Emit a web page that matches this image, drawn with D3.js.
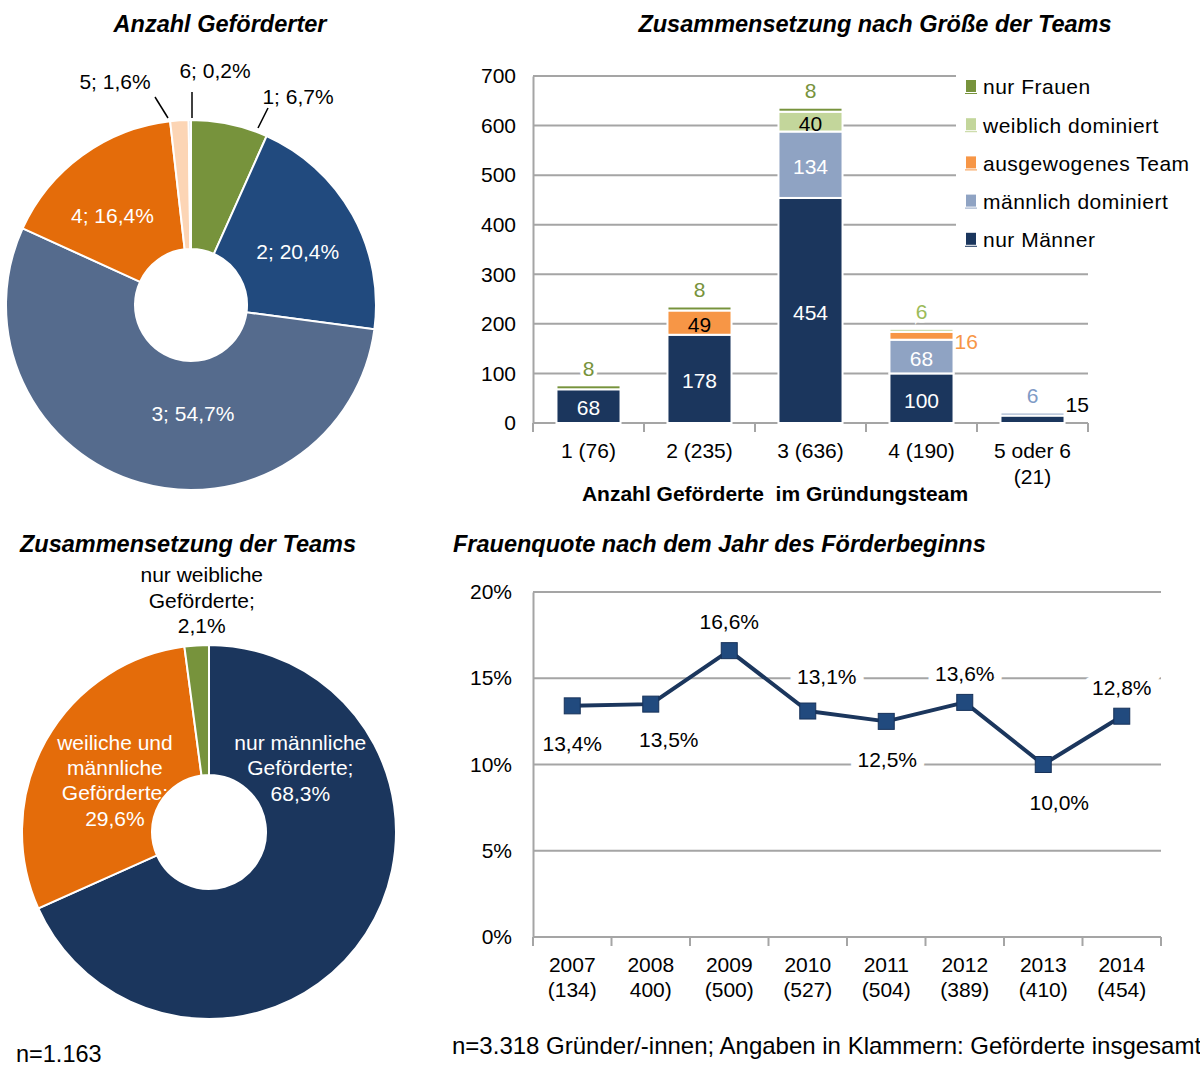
<!DOCTYPE html>
<html>
<head>
<meta charset="utf-8">
<script src="https://cdn.jsdelivr.net/npm/d3@7"></script>
<style>
  body { margin: 0; background: #fff; }
  svg text { font-family: "Liberation Sans", Arial, sans-serif; }
  .title { font-size: 23.5px; font-weight: bold; font-style: italic; }
  .lbl { font-size: 21px; }
  .grid { stroke: #a5a5a5; stroke-width: 2; }
</style>
</head>
<body>
<div id="chart"></div>
<script>
// ---- data ----
// top-left doughnut: number of funded people per team
const teamSizeLabels = ["1", "2", "3", "4", "5", "6"];
const teamSizeShares = [6.7, 20.4, 54.7, 16.4, 1.6, 0.2];

// stacked bars: composition by team size
const barCategories = ["1 (76)", "2 (235)", "3 (636)", "4 (190)", "5 oder 6\n(21)"];
const seriesNames = ["nur Männer", "männlich dominiert", "ausgewogenes Team", "weiblich dominiert", "nur Frauen"];
const nurMaenner = [68, 178, 454, 100, 15];
const maennlichDom = [0, 0, 134, 68, 6];
const ausgewogen = [0, 49, 0, 16, 0];
const weiblichDom = [0, 0, 40, 6, 0];
const nurFrauen = [8, 8, 8, 0, 0];
const barTicks = [0, 100, 200, 300, 400, 500, 600, 700];

// bottom-left doughnut: team composition
const compLabels = ["nur männliche\nGeförderte;\n68,3%", "weiliche und\nmännliche\nGeförderte;\n29,6%", "nur weibliche\nGeförderte;\n2,1%"];
const compShares = [68.3, 29.6, 2.1];

// line chart: share of women by start year
const years = ["2007", "2008", "2009", "2010", "2011", "2012", "2013", "2014"];
const yearCounts = ["(134)", "400)", "(500)", "(527)", "(504)", "(389)", "(410)", "(454)"];
const womenShare = [13.4, 13.5, 16.6, 13.1, 12.5, 13.6, 10.0, 12.8];
const lineTicks = [0, 5, 10, 15, 20];

// ---- styles ----
const pieColors = ["#77933c", "#214a7e", "#556b8d", "#e46c0a", "#fcd5b5", "#b7c9e2"];
const seriesColors = ["#1b365d", "#8fa3c3", "#f79646", "#c3d69b", "#77933c"];
const outLabelColors = ["#000", "#7f9bc6", "#f79646", "#9bbb59", "#77933c"];
const compColors = ["#1b365d", "#e46c0a", "#77933c"];

const fmt = v => d3.format(".1f")(v).replace(".", ",");

const svg = d3.select("#chart").append("svg")
  .attr("width", 1200).attr("height", 1073);

// ================= top-left doughnut =================
let pie = d3.pie().sort(null).value(d => d);

let p1 = svg.append("g").attr("transform", "translate(191,305)");
let arc1 = d3.arc().innerRadius(56).outerRadius(185);
let arcs1 = pie(teamSizeShares);

p1.selectAll("path").data(arcs1).enter().append("path")
  .attr("d", arc1)
  .attr("fill", (d, i) => pieColors[i])
  .attr("stroke", "#fff").attr("stroke-width", 2);

svg.append("text").attr("class", "title")
  .attr("x", 220).attr("y", 32).attr("text-anchor", "middle")
  .text("Anzahl Geförderter");

// inside labels (nudged like excel places them)
let inNudge = { 1: [2, 5], 2: [35, -7], 3: [-8, 8] };
let labelArc1 = d3.arc().innerRadius(120).outerRadius(120);
Object.keys(inNudge).forEach(k => {
  let d = arcs1[k];
  let c = labelArc1.centroid(d);
  p1.append("text").attr("class", "lbl")
    .attr("x", c[0] + inNudge[k][0]).attr("y", c[1] + inNudge[k][1])
    .attr("dy", "0.35em").attr("text-anchor", "middle").attr("fill", "#fff")
    .text(teamSizeLabels[k] + "; " + fmt(teamSizeShares[k]) + "%");
});

// outside labels with leader lines
let outside = [
  { i: 0, from: [67, -177], to: [77, -197], text: [107, -208] },
  { i: 4, from: [-23, -187], to: [-36, -208], text: [-76, -223] },
  { i: 5, from: [1, -187], to: [1, -213], text: [24, -234] }
];
outside.forEach(o => {
  p1.append("line")
    .attr("x1", o.from[0]).attr("y1", o.from[1])
    .attr("x2", o.to[0]).attr("y2", o.to[1])
    .attr("stroke", "#000").attr("stroke-width", 1.5);
  p1.append("text").attr("class", "lbl")
    .attr("x", o.text[0]).attr("y", o.text[1])
    .attr("dy", "0.35em").attr("text-anchor", "middle")
    .text(teamSizeLabels[o.i] + "; " + fmt(teamSizeShares[o.i]) + "%");
});

// ================= stacked bar chart =================
let table = barCategories.map((c, i) => ({
  cat: c,
  "nur Männer": nurMaenner[i],
  "männlich dominiert": maennlichDom[i],
  "ausgewogenes Team": ausgewogen[i],
  "weiblich dominiert": weiblichDom[i],
  "nur Frauen": nurFrauen[i]
}));
let stacked = d3.stack().keys(seriesNames)(table);

let bx = d3.scaleBand().domain(barCategories).range([533, 1088])
  .paddingInner(0.423).paddingOuter(0.2115);
let by = d3.scaleLinear().domain([0, 700]).range([423, 76]);

let bar = svg.append("g");
bar.selectAll("line.grid").data(barTicks.slice(1)).enter().append("line")
  .attr("class", "grid")
  .attr("x1", 533).attr("x2", 1088)
  .attr("y1", d => by(d)).attr("y2", d => by(d));

// y axis
let yAxisB = d3.axisLeft(by).tickValues(barTicks).tickSize(0).tickPadding(17);
bar.append("g").attr("transform", "translate(533,0)").call(yAxisB)
  .call(g => g.select(".domain").attr("stroke", "#a5a5a5").attr("stroke-width", 2))
  .call(g => g.selectAll("text").attr("class", "lbl").attr("font-size", null).attr("font-family", null));

// x axis baseline and ticks between categories
bar.append("line").attr("x1", 533).attr("x2", 1088).attr("y1", by(0)).attr("y2", by(0))
  .attr("stroke", "#a5a5a5").attr("stroke-width", 2);
bar.selectAll("line.tick").data(d3.range(barCategories.length + 1)).enter().append("line")
  .attr("x1", i => 533 + i * bx.step()).attr("x2", i => 533 + i * bx.step())
  .attr("y1", by(0)).attr("y2", by(0) + 9)
  .attr("stroke", "#a5a5a5").attr("stroke-width", 2);

bar.selectAll("text.xcat").data(barCategories).enter().append("text")
  .attr("class", "lbl").attr("text-anchor", "middle")
  .attr("x", d => bx(d) + bx.bandwidth() / 2)
  .attr("y", 458)
  .each(function (d) {
    d.split("\n").forEach((line, k) => {
      d3.select(this).append("tspan")
        .attr("x", bx(d) + bx.bandwidth() / 2)
        .attr("dy", k === 0 ? 0 : 26).text(line);
    });
  });

svg.append("text").attr("x", 775).attr("y", 501)
  .attr("text-anchor", "middle").attr("font-size", 21).attr("font-weight", "bold")
  .style("white-space", "pre")
  .text("Anzahl Geförderte  im Gründungsteam");

// legend (white box masks the gridlines)
let legend = svg.append("g");
legend.append("rect").attr("x", 956).attr("y", 68).attr("width", 244).attr("height", 188).attr("fill", "#fff");
let legendOrder = seriesNames.slice().reverse();
legendOrder.forEach((name, k) => {
  let yy = 87 + k * 38.2;
  let ci = seriesNames.indexOf(name);
  legend.append("rect").attr("x", 966).attr("y", yy - 7).attr("width", 10).attr("height", 12)
    .attr("fill", seriesColors[ci]);
  legend.append("line").attr("x1", 965).attr("x2", 977).attr("y1", yy + 6.5).attr("y2", yy + 6.5)
    .attr("stroke", seriesColors[ci]).attr("stroke-width", 1);
  legend.append("text").attr("class", "lbl").attr("x", 983).attr("y", yy).attr("dy", "0.35em")
    .attr("letter-spacing", 0.5)
    .text(name);
});

// bar labels: placement per series/category (in, top, right); drawn before the bars
let placement = [
  ["in", "in", "in", "in", "right"],
  ["", "", "in", "in", "top"],
  ["", "in", "", "right", ""],
  ["", "", "in", "top", ""],
  ["top", "top", "top", "", ""]
];
let rightDy = { "0-4": -15, "2-3": 6 };
let inColors = ["#fff", "#fff", "#000", "#000", "#fff"];
let outerLabels = bar.append("g");

// bars
let layers = bar.selectAll("g.layer").data(stacked).enter().append("g")
  .attr("fill", (d, i) => seriesColors[i]);
layers.selectAll("rect").data(d => d).enter().append("rect")
  .attr("x", d => bx(d.data.cat))
  .attr("width", bx.bandwidth())
  .attr("y", d => by(d[1]))
  .attr("height", d => by(d[0]) - by(d[1]))
  .attr("stroke", "#fff").attr("stroke-width", d => d[1] > d[0] ? 2 : 0);

stacked.forEach((layer, s) => {
  layer.forEach((d, c) => {
    let how = placement[s][c];
    if (!how) return;
    let v = d[1] - d[0];
    let cx = bx(d.data.cat) + bx.bandwidth() / 2;
    let t = (how === "in" ? bar : outerLabels).append("text")
      .attr("class", "lbl").attr("dy", "0.35em").text(v);
    if (how === "in") {
      t.attr("x", cx).attr("y", (by(d[0]) + by(d[1])) / 2 + 2)
        .attr("text-anchor", "middle").attr("fill", inColors[s]);
    } else if (how === "top") {
      t.attr("x", cx).attr("y", by(d[1]) - 17).attr("text-anchor", "middle")
        .attr("fill", outLabelColors[s])
        .attr("stroke", "#fff").attr("stroke-width", 7).attr("paint-order", "stroke");
    } else {
      t.attr("x", bx(d.data.cat) + bx.bandwidth() + 1)
        .attr("y", (by(d[0]) + by(d[1])) / 2 + rightDy[s + "-" + c])
        .attr("fill", outLabelColors[s])
        .attr("stroke", "#fff").attr("stroke-width", 6).attr("paint-order", "stroke");
    }
  });
});

svg.append("text").attr("class", "title")
  .attr("x", 875).attr("y", 32).attr("text-anchor", "middle")
  .text("Zusammensetzung nach Größe der Teams");

// ================= bottom-left doughnut =================
svg.append("defs").append("clipPath").attr("id", "pieclip")
  .append("rect").attr("x", 0).attr("y", 560).attr("width", 397).attr("height", 480);

let p2 = svg.append("g").attr("clip-path", "url(#pieclip)")
  .append("g").attr("transform", "translate(209,832)");
let arc2 = d3.arc().innerRadius(57).outerRadius(187);
let arcs2 = pie(compShares);
p2.selectAll("path").data(arcs2).enter().append("path")
  .attr("d", arc2)
  .attr("fill", (d, i) => compColors[i])
  .attr("stroke", "#fff").attr("stroke-width", 2);

let compNudge = [[-1, -124], [2, 2], [0, -122]];
let compText = ["#fff", "#fff", "#000"];
let labelArc2 = d3.arc().innerRadius(110).outerRadius(110);
let p2l = svg.append("g").attr("transform", "translate(209,832)");
arcs2.forEach((d, i) => {
  let c = labelArc2.centroid(d);
  let lines = compLabels[i].split("\n");
  let t = p2l.append("text").attr("class", "lbl").attr("text-anchor", "middle")
    .attr("fill", compText[i]);
  let x0 = c[0] + compNudge[i][0];
  let y0 = c[1] + compNudge[i][1] - (lines.length - 1) * 12.7;
  lines.forEach((line, k) => {
    t.append("tspan").attr("x", x0).attr("y", y0 + k * 25.4).attr("dy", "0.35em").text(line);
  });
});

svg.append("text").attr("class", "title")
  .attr("x", 188).attr("y", 552).attr("text-anchor", "middle")
  .text("Zusammensetzung der Teams");
svg.append("text").attr("x", 16).attr("y", 1062).attr("font-size", 23.5).text("n=1.163");

// ================= line chart =================
let lx = d3.scalePoint().domain(years).range([533, 1161]).padding(0.5);
let ly = d3.scaleLinear().domain([0, 20]).range([937, 592]);

let lc = svg.append("g");
lc.selectAll("line.grid").data(lineTicks.slice(1)).enter().append("line")
  .attr("class", "grid")
  .attr("x1", 533).attr("x2", 1161)
  .attr("y1", d => ly(d)).attr("y2", d => ly(d));
lc.append("line").attr("x1", 533).attr("x2", 1161).attr("y1", ly(0)).attr("y2", ly(0))
  .attr("stroke", "#a5a5a5").attr("stroke-width", 2);

let yAxisL = d3.axisLeft(ly).tickValues(lineTicks).tickSize(0).tickPadding(21)
  .tickFormat(d => d + "%");
lc.append("g").attr("transform", "translate(533,0)").call(yAxisL)
  .call(g => g.select(".domain").attr("stroke", "#a5a5a5").attr("stroke-width", 2))
  .call(g => g.selectAll("text").attr("class", "lbl").attr("font-size", null).attr("font-family", null));

lc.selectAll("line.tick").data(d3.range(years.length + 1)).enter().append("line")
  .attr("x1", i => 533 + i * lx.step()).attr("x2", i => 533 + i * lx.step())
  .attr("y1", ly(0)).attr("y2", ly(0) + 9)
  .attr("stroke", "#a5a5a5").attr("stroke-width", 2);

years.forEach((yr, i) => {
  let t = lc.append("text").attr("class", "lbl").attr("text-anchor", "middle");
  t.append("tspan").attr("x", lx(yr)).attr("y", 972).text(yr);
  t.append("tspan").attr("x", lx(yr)).attr("y", 997).text(yearCounts[i]);
});

// value labels (drawn before the line so the white halo only cuts gridlines)
let lblDx = [0, 18, 0, 19, 1, 0, 16, 0];
let lblDy = [38, 36, -29, -34, 38, -29, 38, -29];
womenShare.forEach((v, i) => {
  lc.append("text").attr("class", "lbl")
    .attr("x", lx(years[i]) + lblDx[i]).attr("y", ly(v) + lblDy[i])
    .attr("dy", "0.35em").attr("text-anchor", "middle")
    .attr("stroke", "#fff").attr("stroke-width", 16).attr("paint-order", "stroke")
    .text(fmt(v) + "%");
});

let line = d3.line().x((d, i) => lx(years[i])).y(d => ly(d));
lc.append("path").datum(womenShare).attr("d", line)
  .attr("fill", "none").attr("stroke", "#1b365d").attr("stroke-width", 4)
  .attr("stroke-linejoin", "round");
lc.selectAll("rect.mk").data(womenShare).enter().append("rect")
  .attr("x", (d, i) => lx(years[i]) - 8).attr("y", d => ly(d) - 8)
  .attr("width", 16).attr("height", 16)
  .attr("fill", "#214a7e").attr("stroke", "#17325a").attr("stroke-width", 1);

svg.append("text").attr("class", "title")
  .attr("x", 453).attr("y", 552)
  .text("Frauenquote nach dem Jahr des Förderbeginns");
svg.append("text").attr("x", 452).attr("y", 1054).attr("font-size", 24)
  .text("n=3.318 Gründer/-innen; Angaben in Klammern: Geförderte insgesamt");
</script>
</body>
</html>
